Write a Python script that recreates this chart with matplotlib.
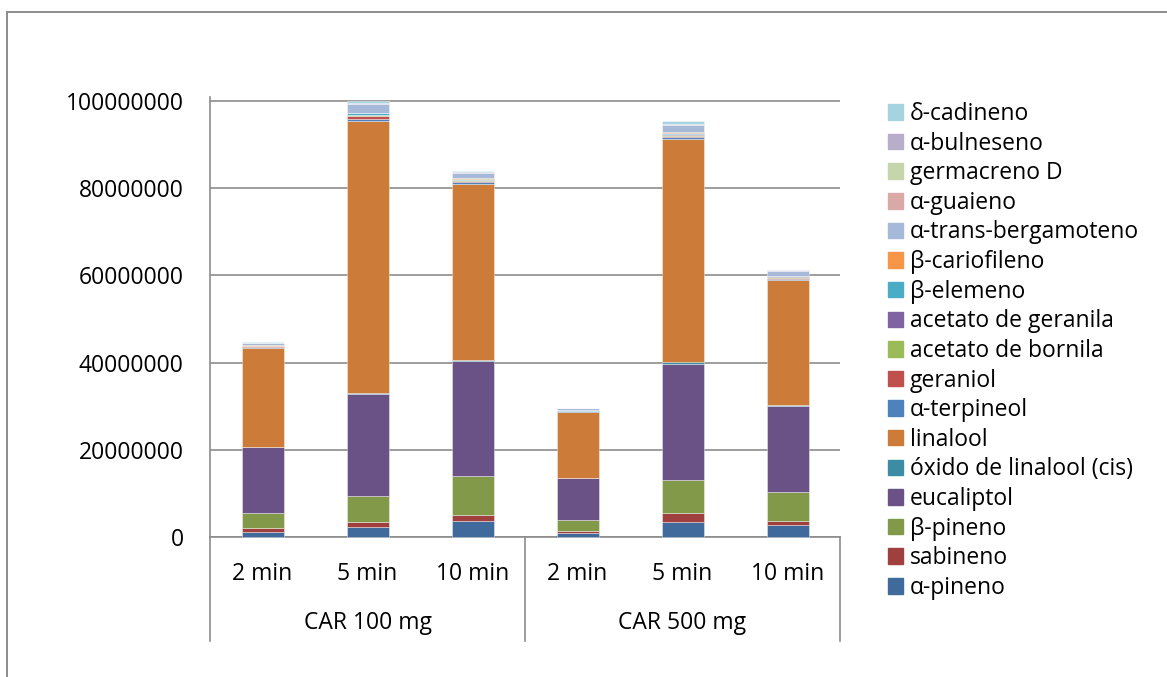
import matplotlib.pyplot as plt
import matplotlib.patches as mpatches
from matplotlib.lines import Line2D
import numpy as np

plt.rcParams['font.family'] = ['Open Sans', 'DejaVu Sans']

# categories
times = ["2 min", "5 min", "10 min", "2 min", "5 min", "10 min"]
groups = ["CAR 100 mg", "CAR 500 mg"]

# compounds, bottom to top of the stack
compounds = ["α-pineno", "sabineno", "β-pineno", "eucaliptol",
             "óxido de linalool (cis)", "linalool", "α-terpineol", "geraniol",
             "acetato de bornila", "acetato de geranila", "β-elemeno",
             "β-cariofileno", "α-trans-bergamoteno", "α-guaieno",
             "germacreno D", "α-bulneseno", "δ-cadineno"]

colors = ["#40699C", "#A0403E", "#82994A", "#6A5287", "#3C8DA3", "#CC7B38",
          "#4F81BD", "#C0504D", "#9BBB59", "#8064A2", "#4BACC6", "#F79646",
          "#A7B9D8", "#D9A9A8", "#C6D6AC", "#B8AECB", "#A5D3E0"]

# peak areas (millions), one value per bar
a_pineno      = [1.15, 2.3, 3.6, 1.0, 3.4, 2.7]
sabineno      = [0.9, 1.15, 1.45, 0.4, 2.05, 1.0]
b_pineno      = [3.4, 6.0, 8.85, 2.6, 7.6, 6.7]
eucaliptol    = [15.1, 23.4, 26.4, 9.5, 26.6, 19.6]
oxido_linalool = [0.2, 0.2, 0.35, 0.1, 0.4, 0.2]
linalool      = [22.7, 62.4, 40.4, 15.1, 51.3, 28.7]
a_terpineol   = [0.15, 0.4, 0.3, 0.1, 0.4, 0.3]
geraniol      = [0.1, 0.75, 0.3, 0.1, 0.3, 0.25]
ac_bornila    = [0.05, 0.15, 0.15, 0.05, 0.15, 0.2]
ac_geranila   = [0.05, 0.15, 0.15, 0.05, 0.15, 0.1]
b_elemeno     = [0.05, 0.25, 0.15, 0.05, 0.4, 0.1]
b_cariofileno = [0.25, 0.15, 0.2, 0.15, 0.2, 0.1]
bergamoteno   = [0.3, 1.9, 1.15, 0.3, 1.45, 1.07]
a_guaieno     = [0.05, 0.1, 0.05, 0.02, 0.1, 0.03]
germacreno_d  = [0.05, 0.1, 0.05, 0.02, 0.1, 0.03]
a_bulneseno   = [0.05, 0.1, 0.1, 0.03, 0.1, 0.05]
d_cadineno    = [0.1, 0.45, 0.3, 0.1, 0.6, 0.2]

series = [a_pineno, sabineno, b_pineno, eucaliptol, oxido_linalool, linalool,
          a_terpineol, geraniol, ac_bornila, ac_geranila, b_elemeno,
          b_cariofileno, bergamoteno, a_guaieno, germacreno_d, a_bulneseno,
          d_cadineno]

W, H = 1167, 677
fig = plt.figure(figsize=(W / 100, H / 100), dpi=100)

ymax = 1.01e8
y0_px, y100_px = 537, 101
ax_top_px = y0_px - (y0_px - y100_px) * ymax / 1e8
ax = fig.add_axes([210 / W, 1 - y0_px / H, 630 / W, (y0_px - ax_top_px) / H])

x = np.arange(len(times))
bottom = np.zeros(len(times))
handles = []
for name, vals, c in zip(compounds, series, colors):
    v = np.array(vals) * 1e6
    ax.bar(x, v, width=0.4, bottom=bottom, color=c,
           edgecolor=(1, 1, 1, 0.45), linewidth=0.6, zorder=3, clip_on=False)
    bottom += v
    handles.append(mpatches.Patch(color=c, label=name))

fs = 16.5
ax.set_xlim(-0.5, len(times) - 0.5)
ax.set_ylim(0, ymax)
ticks = np.arange(0, 1.0e8 + 1, 2e7)
ax.set_yticks(ticks)
ax.set_yticklabels([f"{int(t)}" for t in ticks])
ax.tick_params(axis='y', length=0, pad=19, labelsize=fs)
ax.yaxis.grid(True, color="#8C8C8C", linewidth=1.2, zorder=0)
ax.set_axisbelow(True)

for s in ["top", "right"]:
    ax.spines[s].set_visible(False)
for s in ["left", "bottom"]:
    ax.spines[s].set_color("#8C8C8C")
    ax.spines[s].set_linewidth(1.2)

# two-level category axis
ax.set_xticks([])
for i, t in enumerate(times):
    ax.text(i, -0.083, t, transform=ax.get_xaxis_transform(), ha="center",
            va="center", fontsize=fs)
for g, name in enumerate(groups):
    ax.text(g * 3 + 1, -0.196, name, transform=ax.get_xaxis_transform(),
            ha="center", va="center", fontsize=fs)
for xs in [-0.5, 2.5, 5.5]:
    ax.add_line(Line2D([xs, xs], [0, -0.236], transform=ax.get_xaxis_transform(),
                       color="#8C8C8C", linewidth=1.2, clip_on=False))

fig.legend(handles=handles[::-1], loc="upper left",
           bbox_to_anchor=(888 / W, 1 - 102 / H), frameon=False,
           fontsize=fs, handlelength=0.66, handleheight=0.66,
           handletextpad=0.28, labelspacing=0.245, borderpad=0, borderaxespad=0)

# outer chart border
fig.add_artist(mpatches.Rectangle((7 / W, -0.1), 1.2, 1.1 - 12 / H,
                                  transform=fig.transFigure, fill=False,
                                  edgecolor="#8C8C8C", linewidth=1.4))

fig.savefig("out.png", dpi=100)
